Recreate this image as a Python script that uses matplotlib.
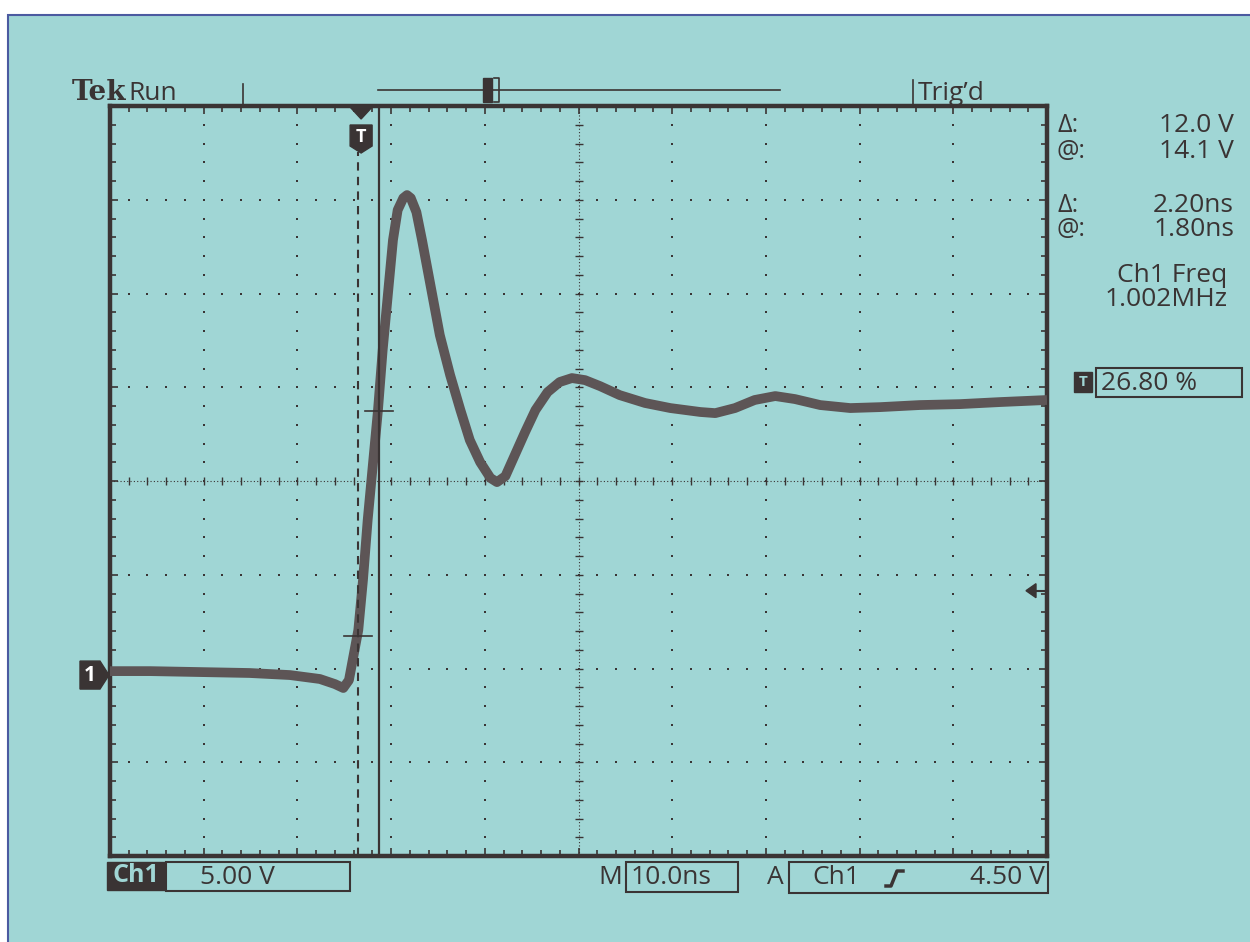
import matplotlib
matplotlib.use('Agg')
import matplotlib.pyplot as plt
from matplotlib.patches import Rectangle, Polygon
import numpy as np

# Ch1 trace: time (ns) and volts above the Ch1 ground
time_ns = [0.0, 4.3, 9.6, 14.9, 19.2, 22.4, 24.0, 24.9, 25.5, 25.9, 26.5, 27.0,
           27.5, 28.1, 28.6, 29.1, 29.7, 30.2, 30.7, 31.3, 31.7, 32.1, 32.7, 33.3,
           34.2, 35.2, 36.3, 37.4, 38.4, 39.5, 40.6, 41.3, 42.2, 43.2, 44.3, 45.4,
           46.7, 48.0, 49.3, 50.7, 52.3, 54.4, 57.1, 59.8, 63.0, 64.6, 66.7, 68.8,
           71.0, 73.1, 75.8, 79.0, 82.2, 86.4, 90.7, 95.0, 100.0]
ch1_v = [0.21, 0.21, 0.16, 0.11, 0.0, -0.21, -0.48, -0.69, -0.27, 0.80, 2.40, 5.07,
         8.27, 11.47, 14.13, 17.33, 20.53, 23.20, 24.80, 25.44, 25.60, 25.44, 24.69, 23.20,
         20.80, 18.13, 16.00, 14.13, 12.53, 11.36, 10.51, 10.29, 10.61, 11.73, 12.96, 14.13,
         15.09, 15.63, 15.84, 15.73, 15.41, 14.93, 14.51, 14.24, 14.03, 13.97, 14.24, 14.67,
         14.88, 14.72, 14.40, 14.24, 14.29, 14.40, 14.45, 14.56, 14.67]

ns_per_div = 10.0
v_per_div = 5.0
center_v = 10.35          # screen centre, volts above Ch1 ground
trig_pos_pct = 26.80
trig_level_v = 4.50
cursor_t = [26.5, 28.7]   # paired cursors (dashed, solid)
cursor_v = [2.1, 14.1]

readout_labels = ['Δ:', '@:', 'Δ:', '@:']
readout_values = ['12.0 V', '14.1 V', '2.20ns', '1.80ns']

W, H = 1250, 942
bg = '#a0d6d5'
ink = '#3a3434'
trace_col = '#5d5556'

plt.rcParams['font.family'] = ['Open Sans', 'DejaVu Sans']

fig = plt.figure(figsize=(12.5, 9.42), dpi=100, facecolor='white')

# overlay in pixel coordinates for the screen furniture
ov = fig.add_axes([0, 0, 1, 1])
ov.set_xlim(0, W)
ov.set_ylim(H, 0)
ov.axis('off')
ov.add_patch(Rectangle((8, 15), W, H, facecolor=bg, edgecolor='#4b5aa0', lw=1.5))

# graticule
ax = fig.add_axes([110 / W, (H - 856) / H, 937 / W, 750 / H])
ax.set_facecolor('none')
ax.set_xlim(0, 10 * ns_per_div)
ax.set_ylim(center_v - 4 * v_per_div, center_v + 4 * v_per_div)
for s in ax.spines.values():
    s.set_linewidth(3.2)
    s.set_color(ink)
xmaj = np.arange(0, 10 * ns_per_div + 0.1, ns_per_div)
xmin = np.arange(0, 10 * ns_per_div + 0.1, ns_per_div / 5)
ymaj = center_v + v_per_div * np.arange(-4, 5)
ymin = center_v + v_per_div / 5 * np.arange(-20, 21)
ax.set_xticks(xmaj)
ax.set_xticks(xmin, minor=True)
ax.set_yticks(ymaj)
ax.set_yticks(ymin, minor=True)
ax.tick_params(which='both', direction='in', top=True, right=True,
               labelbottom=False, labelleft=False, color=ink)
ax.tick_params(which='major', length=6, width=1.2)
ax.tick_params(which='minor', length=4, width=1.2)

gx, gy = np.meshgrid([x for x in xmaj[1:-1] if x != 50], ymin)
ax.scatter(gx, gy, s=3, color=ink, marker='s', lw=0, zorder=1)
gx, gy = np.meshgrid(xmin, [y for y in ymaj[1:-1] if abs(y - center_v) > 0.01])
ax.scatter(gx, gy, s=3, color=ink, marker='s', lw=0, zorder=1)
# centre cross with ticks
ax.axhline(center_v, color=ink, lw=0.8, ls=(0, (1, 2)), zorder=1)
ax.axvline(50, color=ink, lw=0.8, ls=(0, (1, 2)), zorder=1)
ax.scatter(xmin, [center_v] * len(xmin), marker='|', s=40, color=ink, lw=1, zorder=1)
ax.scatter([50] * len(ymin), ymin, marker='_', s=40, color=ink, lw=1, zorder=1)

# waveform
ax.plot(time_ns, ch1_v, color=trace_col, lw=7, solid_joinstyle='round',
        solid_capstyle='butt', zorder=3)

# cursors
ax.axvline(cursor_t[1], color=ink, lw=1.6, zorder=4)
ax.axvline(cursor_t[0], ymin=0, ymax=(856 - 152) / 750, color=ink, lw=1.5,
           ls=(0, (4, 3)), zorder=4)
for ct, cv in zip(cursor_t, cursor_v):
    ax.plot([ct - 1.5, ct + 1.5], [cv, cv], color=ink, lw=1.2, zorder=4)


def to_px(t, v):
    return ov.transData.inverted().transform(ax.transData.transform((t, v)))


# trigger position marker
tx, _ = to_px(trig_pos_pct / 100 * 10 * ns_per_div, 0)
ov.add_patch(Polygon([(tx - 12, 106), (tx + 12, 106), (tx, 119)], color=ink, zorder=5))
ov.add_patch(Polygon([(tx - 11, 125), (tx + 11, 125), (tx + 11, 146), (tx, 153), (tx - 11, 146)],
                     color=ink, zorder=5))
ov.text(tx, 137, 'T', color='white', fontsize=13, fontweight='bold',
        ha='center', va='center', zorder=6)

# ground marker
_, gyp = to_px(0, 0)
ov.add_patch(Polygon([(80, gyp - 14), (100, gyp - 14), (109, gyp), (100, gyp + 14), (80, gyp + 14)],
                     color=ink, zorder=5))
ov.text(90, gyp, '1', color='white', fontsize=15, fontweight='bold',
        ha='center', va='center', zorder=6)

# trigger level arrow
_, tly = to_px(0, trig_level_v)
ov.add_patch(Polygon([(1026, tly), (1036, tly - 7), (1036, tly + 7)], color=ink, zorder=5))
ov.plot([1034, 1045], [tly, tly], color=ink, lw=1.5, zorder=5)

# top status bar
ov.text(72, 100, 'Tek', family='DejaVu Serif', fontweight='bold', fontsize=20,
        color=ink, va='baseline')
ov.text(128, 100, 'Run', fontsize=19, color=ink, va='baseline')
ov.plot([243, 243], [84, 105], color=ink, lw=1.2)
ov.plot([378, 780], [90, 90], color=ink, lw=1.2)
ov.add_patch(Rectangle((483, 78), 9, 24, color=ink))
ov.plot([494, 499, 499, 494], [78, 78, 102, 102], color=ink, lw=1.2)
ov.plot([913, 913], [80, 105], color=ink, lw=1.2)
ov.text(918, 100, "Trig\u2019d", fontsize=19, color=ink, va='baseline')

# readout panel
for i, (lab, val) in enumerate(zip(readout_labels, readout_values)):
    y = [125, 152, 205, 230][i]
    ov.text(1057, y, lab, fontsize=18, color=ink, va='center')
    ov.text(1234, y, val, fontsize=19, color=ink, va='center', ha='right')
ov.text(1172, 276, 'Ch1 Freq', fontsize=19, color=ink, va='center', ha='center')
ov.text(1166, 300, '1.002MHz', fontsize=19, color=ink, va='center', ha='center')
ov.add_patch(Rectangle((1074, 372), 18, 20, color=ink))
ov.text(1083, 382, 'T', color=bg, fontsize=11, fontweight='bold', ha='center', va='center')
ov.add_patch(Rectangle((1096, 368), 146, 29, fill=False, edgecolor=ink, lw=1.5))
ov.text(1101, 383, '%.2f %%' % trig_pos_pct, fontsize=19, color=ink, va='center')

# bottom status bar
ov.add_patch(Rectangle((107, 862), 58, 28, color=ink))
ov.text(136, 876, 'Ch1', color=bg, fontsize=18, fontweight='bold', ha='center', va='center')
ov.add_patch(Rectangle((166, 862), 184, 29, fill=False, edgecolor=ink, lw=1.5))
ov.text(200, 877, '%.2f V' % v_per_div, fontsize=19, color=ink, va='center')
ov.text(598, 877, 'M', fontsize=19, color=ink, va='center')
ov.add_patch(Rectangle((626, 862), 112, 30, fill=False, edgecolor=ink, lw=1.5))
ov.text(631, 877, '%.1fns' % ns_per_div, fontsize=19, color=ink, va='center')
ov.text(767, 877, 'A', fontsize=19, color=ink, va='center')
ov.add_patch(Rectangle((789, 862), 259, 31, fill=False, edgecolor=ink, lw=1.5))
ov.text(812, 877, 'Ch1', fontsize=19, color=ink, va='center')
ov.plot([886, 891, 897, 903], [886, 886, 871, 871], color=ink, lw=2.5)
ov.text(1045, 877, '%.2f V' % trig_level_v, fontsize=19, color=ink, va='center', ha='right')

plt.savefig('out.png', dpi=100, facecolor=fig.get_facecolor())
